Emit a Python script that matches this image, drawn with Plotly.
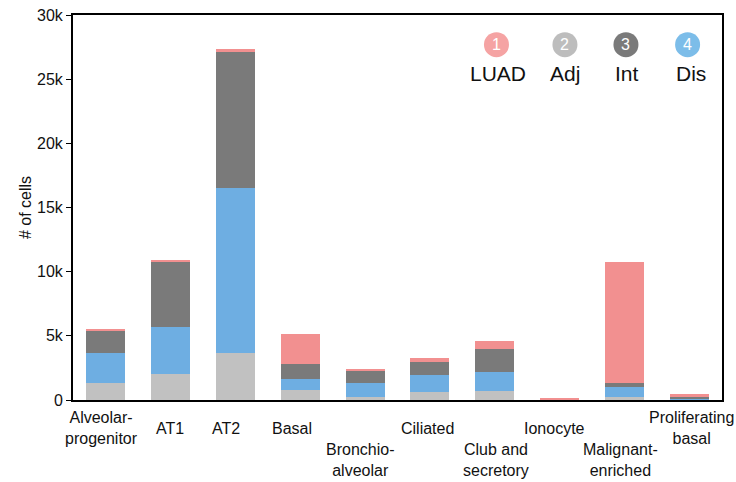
import plotly.graph_objects as go

categories = ["Alveolar-<br>progenitor", "AT1", "AT2", "Basal", "Bronchio-<br>alveolar",
              "Ciliated", "Club and<br>secretory", "Ionocyte", "Malignant-<br>enriched",
              "Proliferating<br>basal"]
adj  = [1350, 2050, 3690,  800,  235,  650,  725,  5,  260,  30]
dis  = [2340, 3640, 12850, 860, 1115, 1320, 1475, 10,  780,  70]
int_ = [1710, 5140, 10600, 1170, 930, 1020, 1800, 15,  310, 135]
luad = [130,   40,  210, 2340,   80,  310,  620, 60, 9400, 235]

series_names = ["LUAD", "Adj", "Int", "Dis"]
series_nums = ["1", "2", "3", "4"]
ytick_vals = [0, 5000, 10000, 15000, 20000, 25000, 30000]
ytick_text = ["0", "5k", "10k", "15k", "20k", "25k", "30k"]

# layout-only: label row (0 = top row, 1 = lower row) and small horizontal nudges
label_row = [0, 0, 0, 0, 1, 0, 1, 0, 1, 0]
label_dx = [-4, 0, -9, -8, -5, -2, 1, -5, -4, 2]

C_LUAD, C_ADJ, C_INT, C_DIS = "#F29090", "#C1C1C1", "#7A7A7A", "#6EAEE2"
LEG_COLS = ["#F5A3A3", "#BDBDBD", "#7A7A7A", "#7CBDE9"]
FONT = "Liberation Sans, Arial, Helvetica, sans-serif"

fig = go.Figure()
for name, vals, col in [("Adj", adj, C_ADJ), ("Dis", dis, C_DIS),
                        ("Int", int_, C_INT), ("LUAD", luad, C_LUAD)]:
    fig.add_trace(go.Bar(x=categories, y=vals, name=name, marker_color=col,
                         marker_line_width=0, showlegend=False))

annotations = []
for cat, row, dx in zip(categories, label_row, label_dx):
    annotations.append(dict(x=cat, xref="x", y=-0.073 if row == 0 else -0.155, yref="paper",
                            yanchor="middle", xanchor="center", xshift=dx, text=cat,
                            showarrow=False, font=dict(size=16, color="#111", family=FONT)))

shapes = []
leg_x = [0.6525, 0.758, 0.852, 0.947]
lab_x = [0.655, 0.758, 0.854, 0.953]
for nm, num, col, cx, lx in zip(series_names, series_nums, LEG_COLS, leg_x, lab_x):
    shapes.append(dict(type="circle", xref="paper", yref="paper", xsizemode="pixel",
                       ysizemode="pixel", xanchor=cx, yanchor=0.923, x0=-12.5, x1=12.5,
                       y0=-12.5, y1=12.5, fillcolor=col, line_width=0))
    annotations.append(dict(x=cx, y=0.923, xref="paper", yref="paper", text=num,
                            showarrow=False, xanchor="center", yanchor="middle",
                            font=dict(size=16, color="white", family=FONT)))
    annotations.append(dict(x=lx, y=0.849, xref="paper", yref="paper", text=nm,
                            showarrow=False, xanchor="center", yanchor="middle",
                            font=dict(size=21, color="#111", family=FONT)))

fig.update_layout(
    width=736, height=482, barmode="stack", bargap=0.4,
    plot_bgcolor="white", paper_bgcolor="white",
    margin=dict(l=73, r=14, t=15, b=82, autoexpand=False),
    font=dict(family=FONT, size=16, color="#111"),
    annotations=annotations, shapes=shapes,
    xaxis=dict(showticklabels=False, ticks="", showline=True, linecolor="black",
               linewidth=2, mirror=True, showgrid=False,
               range=[-0.5, len(categories) - 0.5], autorange=False),
    yaxis=dict(range=[0, 30000], tickvals=ytick_vals, ticktext=ytick_text,
               ticks="outside", ticklen=5, tickwidth=1.2, tickcolor="black",
               showline=True, linecolor="black", linewidth=2, mirror=True,
               showgrid=False, zeroline=False, automargin=False,
               ticklabeloverflow="allow",
               title=dict(text="# of cells", standoff=1, font=dict(size=16, family=FONT)),
               tickfont=dict(size=16, family=FONT)),
)
fig.write_html("out.html", config={"displayModeBar": False},
               post_script="document.body.style.margin='0';document.body.style.overflow='hidden';")
